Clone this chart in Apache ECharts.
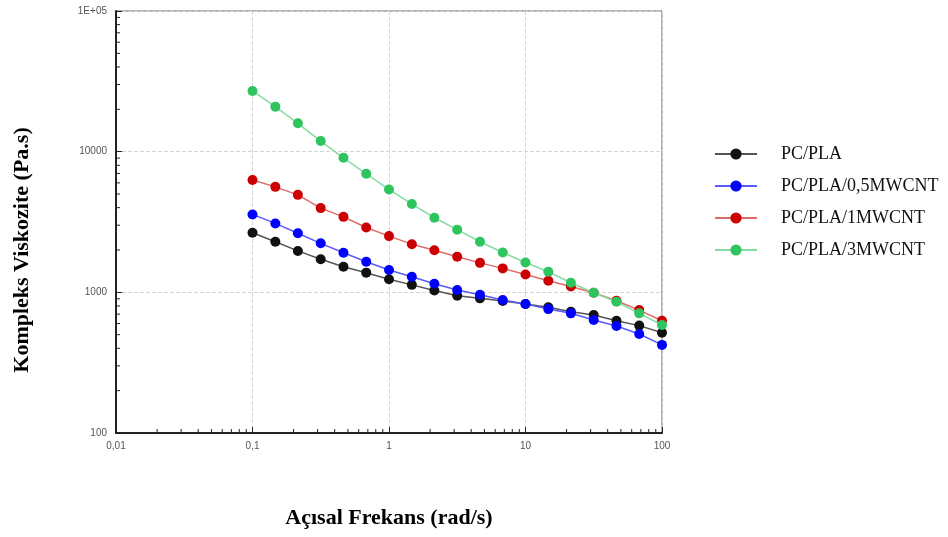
<!DOCTYPE html>
<html>
<head>
<meta charset="utf-8">
<script src="https://cdn.jsdelivr.net/npm/echarts@6/dist/echarts.min.js"></script>
<style>
  html, body { margin: 0; padding: 0; background: #fff; }
  #chart { width: 948px; height: 537px; }
</style>
</head>
<body>
<div id="chart"></div>
<script>
// frekans (rad/s), 6 nokta / dekad
const freq = [0.1, 0.147, 0.215, 0.316, 0.464, 0.681, 1, 1.47, 2.15, 3.16, 4.64, 6.81, 10, 14.7, 21.5, 31.6, 46.4, 68.1, 100]

const seriesNames = ['PC/PLA', 'PC/PLA/0,5MWCNT', 'PC/PLA/1MWCNT', 'PC/PLA/3MWCNT']

const pcPla = [2650, 2290, 1970, 1720, 1520, 1380, 1240, 1130, 1030, 946, 906, 867, 826, 782, 728, 690, 628, 580, 516]
const pcPla05 = [3580, 3090, 2630, 2230, 1910, 1650, 1440, 1290, 1150, 1040, 962, 882, 826, 760, 709, 636, 577, 506, 423]
const pcPla1 = [6280, 5620, 4930, 3970, 3440, 2890, 2510, 2200, 1990, 1790, 1620, 1480, 1340, 1210, 1100, 994, 871, 748, 628]
const pcPla3 = [27000, 20900, 15900, 11900, 9040, 6960, 5390, 4240, 3390, 2790, 2290, 1920, 1630, 1400, 1170, 994, 857, 709, 586]

const lineColors = ['#555555', '#5a5aff', '#e06a6a', '#86dca3']
const dotColors = ['#111111', '#0000ff', '#cc0000', '#2ec45e']

// ara tikler (2..9 x dekad)
const xMinor = []
for (let d of [0.01, 0.1, 1, 10]) {
  for (let k = 2; k <= 9; k++) xMinor.push(+(d * k).toPrecision(3))
}
const yMinor = []
for (let d of [100, 1000, 10000]) {
  for (let k = 2; k <= 9; k++) yMinor.push(d * k)
}

const values = [pcPla, pcPla05, pcPla1, pcPla3]
const lineSeries = seriesNames.map((name, i) => ({
  name: name,
  type: 'line',
  data: freq.map((f, j) => [f, values[i][j]]),
  symbol: 'circle',
  symbolSize: 10,
  itemStyle: { color: dotColors[i] },
  lineStyle: { color: lineColors[i], width: 1.5 },
  z: 3 + i
}))

const chart = echarts.init(document.getElementById('chart'))
chart.setOption({
  animation: false,
  grid: {
    left: 116,
    right: 286,
    top: 11,
    bottom: 104,
    show: true,
    borderColor: '#666',
    borderWidth: 1
  },
  // y ekseni basligi (eksen ortasinin biraz altinda)
  graphic: [
    {
      type: 'text',
      x: 22,
      y: 250,
      rotation: Math.PI / 2,
      style: {
        text: 'Kompleks Viskozite (Pa.s)',
        fontFamily: 'Liberation Serif',
        fontWeight: 'bold',
        fontSize: 22,
        fill: '#000',
        align: 'center',
        verticalAlign: 'middle'
      }
    }
  ],
  legend: {
    data: seriesNames,
    orient: 'vertical',
    left: 709,
    top: 140,
    itemWidth: 42,
    itemHeight: 14,
    itemGap: 14,
    textStyle: {
      fontFamily: 'Liberation Serif',
      fontSize: 18,
      color: '#111',
      padding: [0, 0, 0, 19]
    }
  },
  xAxis: {
    type: 'log',
    logBase: 10,
    min: 0.01,
    max: 100,
    name: 'Açısal Frekans (rad/s)',
    nameLocation: 'middle',
    nameGap: 74,
    nameTextStyle: {
      fontFamily: 'Liberation Serif',
      fontWeight: 'bold',
      fontSize: 22,
      color: '#000'
    },
    axisLine: { lineStyle: { color: '#222', width: 2 } },
    axisTick: { inside: true, length: 6, lineStyle: { color: '#222' } },
    axisLabel: {
      color: '#555',
      fontFamily: 'Liberation Sans',
      fontSize: 10,
      margin: 8,
      showMinLabel: true,
      showMaxLabel: true,
      formatter: v => String(+v.toPrecision(3)).replace('.', ',')
    },
    splitLine: { show: true, lineStyle: { type: 'dashed', color: '#d4d4d4' } }
  },
  yAxis: {
    type: 'log',
    logBase: 10,
    min: 100,
    max: 100000,
    axisLine: { lineStyle: { color: '#222', width: 2 } },
    axisTick: { inside: true, length: 6, lineStyle: { color: '#222' } },
    axisLabel: {
      color: '#555',
      fontFamily: 'Liberation Sans',
      fontSize: 10,
      margin: 9,
      formatter: v => (v >= 100000 ? '1E+05' : String(Math.round(v)))
    },
    splitLine: { show: true, lineStyle: { type: 'dashed', color: '#d4d4d4' } }
  },
  series: lineSeries.concat([
    {
      type: 'custom',
      silent: true,
      clip: false,
      data: xMinor,
      renderItem: (params, api) => {
        const p = api.coord([api.value(0), 100])
        return {
          type: 'line',
          shape: { x1: p[0], y1: p[1], x2: p[0], y2: p[1] - 4 },
          style: { stroke: '#222', lineWidth: 1 }
        }
      }
    },
    {
      type: 'custom',
      silent: true,
      clip: false,
      data: yMinor.map(v => [0.01, v]),
      renderItem: (params, api) => {
        const p = api.coord([0.01, api.value(1)])
        return {
          type: 'line',
          shape: { x1: p[0], y1: p[1], x2: p[0] + 4, y2: p[1] },
          style: { stroke: '#222', lineWidth: 1 }
        }
      }
    }
  ])
})
</script>
</body>
</html>
